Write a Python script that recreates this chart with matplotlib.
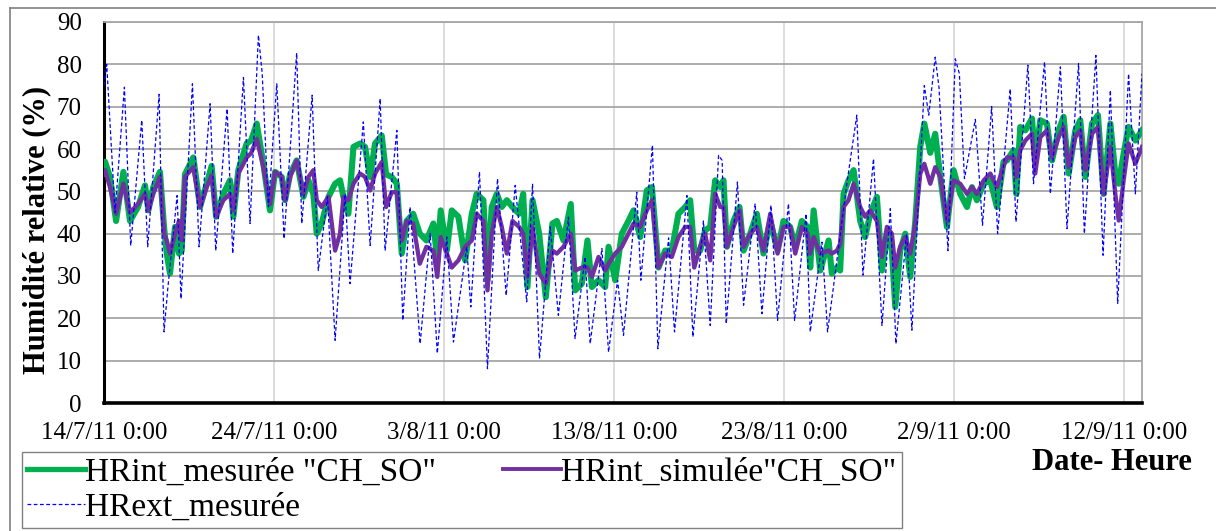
import matplotlib
matplotlib.use("Agg")
import matplotlib.pyplot as plt
from matplotlib.lines import Line2D

plt.rcParams['font.family'] = ['Liberation Serif', 'DejaVu Serif']

# === DATA (x = days since 14/7/11 0:00) ===
t_int = [0.0, 0.06, 0.35, 0.71, 1.14, 1.53, 2.0, 2.41, 2.61, 2.9, 3.29, 3.53, 3.69, 3.88,
         4.18, 4.41, 4.57, 4.76, 5.25, 5.65, 6.04, 6.33, 6.59, 7.02, 7.41, 7.61, 7.9, 8.39,
         8.65, 8.98, 9.37, 9.76, 10.06, 10.45, 10.65, 10.94, 11.33, 11.73, 12.02, 12.31,
         12.51, 12.8, 13.2, 13.59, 13.88, 14.08, 14.37, 14.67, 15.06, 15.35, 15.65, 15.94,
         16.33, 16.59, 16.92, 17.22, 17.51, 17.8, 18.18, 18.57, 18.96, 19.37, 19.6, 19.8,
         20.16, 20.45, 20.84, 21.24, 21.63, 21.92, 22.31, 22.55, 22.8, 23.1, 23.39, 23.69,
         24.02, 24.41, 24.65, 24.9, 25.2, 25.59, 25.98, 26.37, 26.63, 27.02, 27.45, 27.71,
         28.1, 28.43, 28.69, 29.08, 29.47, 29.67, 30.06, 30.45, 30.84, 31.14, 31.53, 31.92,
         32.22, 32.61, 33.0, 33.39, 33.78, 34.18, 34.47, 34.71, 35.06, 35.35, 35.65, 35.94,
         36.24, 36.43, 36.63, 37.02, 37.37, 37.61, 38.0, 38.39, 38.78, 39.18, 39.61, 39.96,
         40.35, 40.65, 41.04, 41.37, 41.53, 41.73, 42.12, 42.61, 42.8, 43.1, 43.29, 43.49,
         43.78, 44.08, 44.47, 44.76, 45.06, 45.45, 45.75, 46.04, 46.33, 46.53, 46.82, 47.12,
         47.41, 47.71, 48.0, 48.24, 48.59, 48.88, 49.18, 49.57, 49.96, 50.35, 50.75, 51.04,
         51.33, 51.73, 52.12, 52.51, 52.9, 53.1, 53.49, 53.65, 53.88, 54.18, 54.57, 54.76,
         55.06, 55.45, 55.75, 56.14, 56.43, 56.73, 57.12, 57.41, 57.71, 58.1, 58.45, 58.78,
         59.18, 59.47, 59.67, 59.96, 60.25, 60.65, 61.04]

hr_int_mesuree = [56, 57, 53.4, 43, 54.6, 43, 46.3, 51.4, 45.5, 51, 54.6, 41.6, 35.3, 30.6,
                  41.6, 35.3, 36, 54, 58, 46.3, 51.8, 56, 44, 49.4, 52.6, 44, 55, 61.3,
                  62, 66, 56.5, 45.5, 54.6, 53.4, 47.9, 54, 57.3, 48.7, 52.6, 49.4,
                  40, 42.4, 48.7, 51.8, 52.6, 48.7, 44.7, 60.5, 61.3, 60.5, 53.4, 61.3,
                  63.2, 54, 53.4, 51.8, 35.3, 43, 44.7, 40, 38.4, 42.4, 33.7, 45.5,
                  36, 45.5, 44, 33.7, 44.7, 49.4, 47.9, 29, 46.3, 49.4, 46.3, 47.9,
                  46.3, 44.7, 49.4, 27.4, 47.9, 40, 25, 42.4, 43, 38.4, 47, 26.6,
                  28.2, 38.4, 27.4, 29, 27.4, 36.9, 29, 40, 43, 45.5, 39.2, 50.2,
                  51, 32, 36, 36, 44.7, 46.3, 47.9, 36, 36, 40.8, 41.6, 52.6,
                  51, 52.6, 36.9, 43, 46.3, 36, 40, 44.7, 35.3, 43, 36, 43,
                  41.6, 36.9, 43, 41.6, 32, 45.5, 31.3, 38.4, 30.6, 32, 31.3, 49.4,
                  52.6, 55, 43, 39.2, 44.7, 48.7, 31.3, 40, 36, 22.7, 36, 40,
                  29.8, 43, 60.5, 66, 59.1, 63.6, 53.4, 41.6, 55, 49.4, 46.3, 51,
                  47.9, 51.8, 52.6, 46.3, 57, 57.3, 59.7, 49.4, 65.2, 64.4, 67.2, 57.3,
                  66.8, 66, 57.3, 64.4, 67.6, 54.2, 64.4, 66.8, 53.4, 66, 68, 49.4,
                  66, 54.2, 51.8, 58.9, 65.2, 62, 64.4]

hr_int_simulee = [54, 55, 51, 44.7, 51.8, 45, 47, 49.4, 45.5, 49.4, 53.4, 40, 38.4, 35.3,
                  40, 43, 38.4, 53.4, 55.7, 46.3, 51, 53.8, 44, 47.9, 49.4, 45.5, 54.2, 58,
                  59, 62.4, 55.7, 47, 54.6, 53.4, 47.9, 53.4, 57.3, 49.4, 53.4, 55,
                  47.9, 46.3, 48.7, 36, 40, 48.7, 47.9, 51.8, 54.2, 53.4, 50.2, 54.2,
                  56.9, 46.3, 49.8, 49.8, 38.4, 43, 42.4, 32.9, 36.9, 36, 29.8, 39.2,
                  35.3, 32, 33.7, 36.9, 38.4, 44.7, 43, 26.6, 40, 46.3, 41.6, 35.3,
                  43, 41.6, 40, 29.8, 41.6, 30.6, 28.2, 36, 35.3, 36.9, 40, 31.3,
                  32, 32, 29.8, 34.5, 31.3, 32.9, 35.3, 36.9, 40, 42.4, 41.6, 45.5,
                  47.9, 32, 35.3, 34.5, 39.2, 41.6, 41.6, 32, 37, 40, 33.7, 49.4,
                  46.3, 46.3, 36.9, 41.6, 45.5, 36.9, 40, 41.6, 36, 44.7, 35.3, 41.6,
                  41.6, 35.3, 41.6, 40, 35.3, 39.2, 35.3, 36, 35.3, 36, 37.6, 46.3,
                  47.9, 51.8, 46.3, 44, 45.5, 43, 34.5, 41.6, 40, 32, 36.9, 39.2,
                  35.3, 42.4, 54.2, 56.5, 51.8, 55.7, 53.4, 43, 52.6, 51.8, 49.4, 51,
                  49.4, 52.6, 54.2, 51, 56, 58, 58, 53.4, 59.7, 62, 63.6, 54.2,
                  62.8, 64.4, 58, 62.8, 65.2, 55.7, 62.8, 64.4, 55, 63.6, 65.2, 49.4,
                  60.5, 49.4, 43.1, 52.6, 61.3, 56.5, 60.5]

t_ext = [0.0, 0.16, 0.65, 1.2, 1.57, 2.22, 2.57, 3.24, 3.53, 3.75, 4.3, 4.53, 5.2, 5.59,
         6.24, 6.57, 7.24, 7.57, 8.2, 8.59, 9.08, 9.3, 9.67, 10.16, 10.59, 11.33, 11.63,
         12.24, 12.6, 13.14, 13.59, 14.18, 14.47, 15.25, 15.65, 16.24, 16.53, 17.22, 17.57,
         18.0, 18.59, 19.18, 19.6, 20.16, 20.55, 21.33, 21.57, 22.08, 22.55, 23.14, 23.65,
         24.18, 24.86, 25.2, 25.61, 26.24, 26.72, 27.31, 27.7, 28.29, 28.59, 29.28, 29.67,
         30.2, 30.55, 31.33, 31.57, 32.25, 32.57, 33.2, 33.55, 34.28, 34.63, 35.25, 35.65,
         36.14, 36.35, 36.59, 37.25, 37.61, 38.29, 38.69, 39.22, 39.61, 40.25, 40.61, 41.29,
         41.53, 42.22, 42.55, 43.25, 43.69, 44.27, 44.63, 45.25, 45.75, 46.24, 46.57, 47.2,
         47.51, 48.24, 48.5, 48.88, 49.1, 49.63, 50.06, 50.3, 50.6, 51.24, 51.66, 52.2,
         52.55, 53.29, 53.63, 54.33, 54.66, 55.31, 55.65, 56.24, 56.63, 57.31, 57.65, 58.33,
         58.75, 59.18, 59.61, 60.25, 60.65, 61.04]

hr_ext_mesuree = [75, 80, 45, 74.6, 37.2, 66.8, 36.9, 72.9, 16.8, 27, 49, 24.6, 75.4, 36.9,
                  70.7, 36, 69.5, 35.3, 76.9, 42.4, 86.9, 78, 46.3, 75.4, 38.8, 82.7, 42.4,
                  72.7, 31.3, 48.7, 14.8, 49.4, 28.2, 66.4, 37.2, 71.9, 36, 64.4, 19.5,
                  46.3, 14, 40, 11.7, 39.2, 14.4, 36.9, 22.7, 54.6, 8.1, 53, 25.4,
                  51.4, 23.9, 51.8, 10.5, 41.6, 20.7, 43.9, 15.2, 34.5, 14, 36.5, 12,
                  29, 16, 49.8, 29, 60.9, 12.8, 39, 16.8, 49, 15.6, 43, 18.3,
                  58.5, 57.3, 18.7, 52.2, 23.1, 47.1, 21.1, 46.7, 19.5, 47.1, 19.5, 44.7,
                  16.8, 38, 16.8, 38.4, 52, 68, 30.2, 57.7, 18.3, 45.9, 14, 40,
                  17.2, 75, 68, 81.7, 74.6, 36, 81.3, 77.8, 53, 67, 42, 70,
                  40, 74.2, 42.8, 79.8, 51.8, 80.6, 49.4, 79.4, 41.2, 80.2, 40, 82.1,
                  34.9, 73.9, 23.5, 77.8, 49.4, 77.8]

tick_days = [0, 10, 20, 30, 40, 50, 60]
tick_labels = ["14/7/11 0:00", "24/7/11 0:00", "3/8/11 0:00", "13/8/11 0:00",
               "23/8/11 0:00", "2/9/11 0:00", "12/9/11 0:00"]
y_ticks = list(range(0, 91, 10))

GREEN = '#00B050'
PURPLE = '#7030A0'
BLUE = '#0000FF'

fig = plt.figure(figsize=(12.16, 5.31), dpi=100)
ax = fig.add_axes([104 / 1216, 1 - 403 / 531, (1142 - 104) / 1216, (403 - 22) / 531])

ax.plot(t_int, hr_int_mesuree, color=GREEN, lw=4.4, solid_joinstyle='round', zorder=3)
ax.plot(t_int, hr_int_simulee, color=PURPLE, lw=3.1, solid_joinstyle='round', zorder=4)
ax.plot(t_ext, hr_ext_mesuree, color=BLUE, lw=0.9, ls=(0, (3, 2)), zorder=5)

ax.set_xlim(0, 61.04)
ax.set_ylim(0, 90)
ax.set_xticks(tick_days)
ax.set_xticklabels(tick_labels)
ax.set_yticks(y_ticks)
ax.tick_params(axis='x', length=0, pad=14, labelsize=18)
ax.tick_params(axis='y', length=0, pad=16, labelsize=18)

ax.grid(axis='y', color='#A6A6A6', lw=1.3, zorder=0)
ax.grid(axis='x', color='#D9D9D9', lw=1.3, zorder=0)
ax.set_axisbelow(True)
for side in ['top', 'right']:
    ax.spines[side].set_color('#A6A6A6')
    ax.spines[side].set_linewidth(1.3)
ax.spines['left'].set_color('black')
ax.spines['left'].set_linewidth(2.2)
ax.spines['bottom'].set_color('black')
ax.spines['bottom'].set_linewidth(2.6)

fig.text(37 / 1216, 1 - 230 / 531, "Humidité relative (%)", rotation=90, fontsize=22,
         fontweight='bold', ha='center', va='center')
fig.text(1112 / 1216, 1 - 462 / 531, "Date- Heure", fontsize=22, fontweight='bold',
         ha='center', va='center')

# outer chart border
fig.add_artist(Line2D([10 / 1216, 10 / 1216], [0, 1 - 8 / 531], color='#808080', lw=1.2,
                      transform=fig.transFigure))
fig.add_artist(Line2D([10 / 1216, 1], [1 - 8 / 531, 1 - 8 / 531], color='#808080', lw=1.2,
                      transform=fig.transFigure))

handles = [Line2D([], [], color=GREEN, lw=3.8),
           Line2D([], [], color=BLUE, lw=0.9, ls=(0, (3, 2))),
           Line2D([], [], color=PURPLE, lw=2.8)]
labels = ['HRint_mesurée "CH_SO"', 'HRext_mesurée', 'HRint_simulée"CH_SO"']
leg = fig.legend(handles, labels, ncol=2, loc='upper left',
                 bbox_to_anchor=(22 / 1216, 1 - 452 / 531), fontsize=24,
                 frameon=True, fancybox=False, edgecolor='#808080', framealpha=1,
                 handlelength=1.75, handletextpad=0.0, columnspacing=2.0,
                 labelspacing=0.15, borderpad=0.15, borderaxespad=0)
leg.get_frame().set_linewidth(1.0)

fig.savefig('out.png', dpi=100)
